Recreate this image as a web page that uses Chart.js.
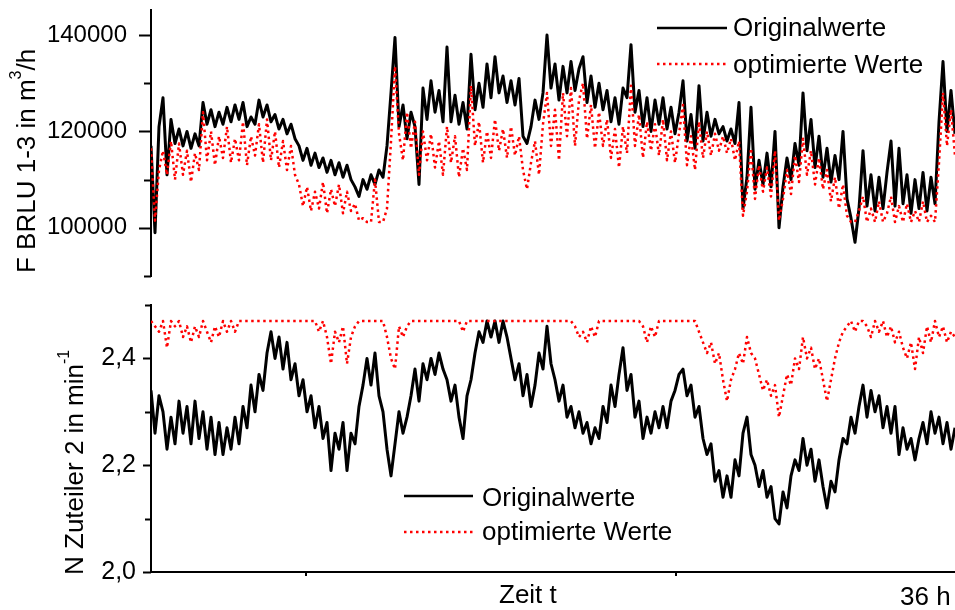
<!DOCTYPE html>
<html>
<head>
<meta charset="utf-8">
<script src="https://cdn.jsdelivr.net/npm/chart.js@4/dist/chart.umd.min.js"></script>
<style>
  body { margin: 0; background: #fff; }
  #wrap { position: relative; width: 955px; height: 610px; }
  canvas { position: absolute; left: 0; }
</style>
</head>
<body>
<div id="wrap">
  <canvas id="oben" width="955" height="290" style="top:0"></canvas>
  <canvas id="unten" width="955" height="320" style="top:290px"></canvas>
</div>
<script>
// F BRLU 1-3 in m3/h, Originalwerte (schwarz)
const originalOben = [
  117000, 99000, 121000, 127000, 111000, 122500, 117500, 120500, 117000, 120000,
  116500, 119500, 117000, 126000, 121500, 124500, 121000, 124000, 121500, 125000,
  122000, 125500, 122500, 126000, 121000, 123000, 121500, 126500, 123000, 125500,
  122000, 123500, 120500, 122500, 119500, 121500, 118500, 117000, 114000, 116500,
  113000, 115500, 112500, 114500, 111500, 114000, 111000, 113500, 110500, 113000,
  110000, 108500, 106500, 110000, 108000, 111000, 109000, 112000, 110500, 117000,
  128000, 139500, 121000, 125500, 118500, 124000, 121000, 109000, 129000, 122500,
  130500, 124000, 128500, 122000, 137500, 122000, 127500, 121500, 126000, 120500,
  136000, 124500, 130000, 125000, 134000, 127000, 135500, 128000, 131500, 126000,
  130500, 125500, 131000, 119000, 117500, 121000, 126500, 122500, 128000, 140000,
  129000, 134000, 126500, 133500, 128000, 134500, 128500, 133000, 135500, 126000,
  131500, 125000, 130000, 124500, 128500, 122000, 127000, 121500, 129000, 127000,
  138000, 124000, 128500, 121000, 127000, 120000, 126500, 121500, 127000, 120500,
  125000, 119500, 124000, 130500, 118000, 123500, 116500, 129500, 118000, 124000,
  119000, 122500, 119500, 121000, 118000, 120500, 117500, 126000, 104000, 110500,
  125000, 108000, 114000, 109000, 115500, 108500, 120000, 100000, 108500, 114500,
  110000, 117500, 113000, 128000, 116000, 122500, 112500, 119000, 110500, 116500,
  109500, 115000, 110000, 120000, 106000, 102000, 97000, 104000, 116000, 104500,
  111000, 103500, 110500, 104000, 111500, 118000, 104500, 116500, 105000, 111000,
  103000, 110000, 104000, 111500, 103500, 110500, 105000, 122000, 134500, 120000,
  128500, 119500
];

// F BRLU 1-3, optimierte Werte (rot)
const optimiertOben = [
  116500, 101500, 112000, 116000, 111000, 118000, 110000, 117500, 111000, 116000,
  109500, 115500, 112000, 124000, 114000, 120000, 113000, 119000, 114500, 121000,
  113500, 118500, 114000, 122000, 113000, 119000, 115000, 121500, 113500, 122500,
  114000, 120000, 112500, 118000, 112000, 117000, 111000, 109000, 104500, 108500,
  103500, 107500, 104000, 109500, 103000, 108000, 104500, 109000, 103000, 107500,
  103500, 105000, 101500, 102000, 101200, 101200, 110000, 101200, 101200, 104000,
  118000, 133500, 119500, 114000, 124000, 116500, 122000, 111000, 120000, 114000,
  119500, 112500, 118000, 111000, 121000, 113500, 119000, 110500, 116500, 112000,
  129500, 117000, 122000, 113500, 120000, 114500, 122500, 116000, 120500, 114500,
  121000, 115000, 119000, 112000, 108000, 113500, 118000, 111000, 121500, 128000,
  117000, 124500, 114000, 128000, 119000, 129000, 117000, 126500, 130000, 118500,
  125500, 116500, 124000, 117000, 122500, 114500, 120500, 112500, 121000, 115500,
  129500, 117000, 123500, 114500, 122000, 116000, 121500, 115000, 122500, 114000,
  120000, 113500, 119500, 125500, 113000, 119000, 112000, 122000, 114500, 120000,
  115000, 119500, 116000, 119000, 115500, 118500, 114000, 118000, 102500, 107500,
  116500, 106000, 113000, 107500, 112500, 106500, 116000, 101500, 106000, 112000,
  107000, 115000, 109500, 118500, 111000, 116000, 109000, 114500, 108000, 112000,
  105500, 110500, 104000, 109000, 102500, 101200, 101200, 103500, 106500, 101200,
  104000, 101200, 105500, 101200, 103000, 106500, 101200, 104500, 101200, 105000,
  101200, 103500, 101200, 105500, 101200, 102500, 101200, 113500, 128000, 117000,
  124500, 115000
];

// N Zuteiler 2 in min-1, Originalwerte (schwarz)
const originalUnten = [
  2.34, 2.26, 2.33, 2.30, 2.23, 2.29, 2.24, 2.32, 2.26, 2.31,
  2.24, 2.32, 2.25, 2.30, 2.23, 2.29, 2.22, 2.28, 2.22, 2.27,
  2.23, 2.29, 2.24, 2.31, 2.27, 2.35, 2.30, 2.37, 2.34, 2.41,
  2.45, 2.40, 2.44, 2.38, 2.43, 2.36, 2.39, 2.33, 2.36, 2.30,
  2.33, 2.27, 2.31, 2.25, 2.28, 2.19, 2.26, 2.23, 2.28, 2.19,
  2.26, 2.24, 2.31, 2.35, 2.40, 2.35, 2.41, 2.33, 2.30, 2.23,
  2.18, 2.24, 2.30, 2.26, 2.29, 2.33, 2.38, 2.32, 2.39, 2.36,
  2.40, 2.37, 2.41, 2.38, 2.36, 2.32, 2.35, 2.29, 2.25, 2.33,
  2.36, 2.41, 2.45, 2.43, 2.47, 2.44, 2.47, 2.43, 2.47, 2.44,
  2.40, 2.36, 2.39, 2.33, 2.37, 2.31, 2.35, 2.41, 2.38, 2.46,
  2.39, 2.36, 2.32, 2.35, 2.29, 2.31, 2.27, 2.30, 2.26, 2.28,
  2.24, 2.27, 2.25, 2.31, 2.28, 2.35, 2.31, 2.37, 2.42, 2.34,
  2.37, 2.29, 2.32, 2.25, 2.29, 2.26, 2.30, 2.27, 2.31, 2.27,
  2.32, 2.34, 2.37, 2.38, 2.33, 2.35, 2.29, 2.31, 2.25, 2.22,
  2.24, 2.17, 2.19, 2.14, 2.18, 2.14, 2.21, 2.18, 2.26, 2.29,
  2.22, 2.20, 2.16, 2.19, 2.14, 2.16, 2.10, 2.09, 2.15, 2.12,
  2.18, 2.21, 2.19, 2.25, 2.20, 2.23, 2.17, 2.21, 2.16, 2.12,
  2.17, 2.15, 2.21, 2.25, 2.24, 2.29, 2.26, 2.31, 2.35, 2.29,
  2.34, 2.30, 2.33, 2.27, 2.31, 2.26, 2.31, 2.22, 2.27, 2.23,
  2.25, 2.21, 2.25, 2.28, 2.24, 2.30, 2.26, 2.29, 2.24, 2.28,
  2.23, 2.27
];

// N Zuteiler 2, optimierte Werte (rot)
const optimiertUnten = [
  2.47, 2.46, 2.45, 2.47, 2.42, 2.47, 2.46, 2.47, 2.44, 2.46,
  2.43, 2.46, 2.44, 2.47, 2.45, 2.43, 2.46, 2.44, 2.47, 2.45,
  2.47, 2.45, 2.47, 2.47, 2.47, 2.47, 2.47, 2.47, 2.47, 2.47,
  2.47, 2.47, 2.47, 2.47, 2.47, 2.47, 2.47, 2.47, 2.47, 2.47,
  2.47, 2.47, 2.45, 2.47, 2.44, 2.39, 2.45, 2.43, 2.46, 2.39,
  2.44, 2.46, 2.47, 2.47, 2.47, 2.47, 2.47, 2.47, 2.47, 2.44,
  2.40, 2.38, 2.46, 2.44, 2.46, 2.47, 2.47, 2.47, 2.47, 2.47,
  2.47, 2.47, 2.47, 2.47, 2.47, 2.47, 2.47, 2.47, 2.45, 2.47,
  2.47, 2.47, 2.47, 2.47, 2.47, 2.47, 2.47, 2.47, 2.47, 2.47,
  2.47, 2.47, 2.47, 2.47, 2.47, 2.47, 2.47, 2.47, 2.47, 2.47,
  2.47, 2.47, 2.47, 2.47, 2.47, 2.47, 2.46, 2.44, 2.45, 2.43,
  2.46, 2.44, 2.47, 2.47, 2.47, 2.47, 2.47, 2.47, 2.47, 2.47,
  2.47, 2.47, 2.47, 2.46, 2.43, 2.46, 2.44, 2.47, 2.47, 2.47,
  2.47, 2.47, 2.47, 2.47, 2.47, 2.47, 2.47, 2.45, 2.43, 2.41,
  2.43, 2.39, 2.41, 2.36, 2.32, 2.36, 2.38, 2.41, 2.39, 2.44,
  2.41, 2.40, 2.37, 2.34, 2.36, 2.33, 2.35, 2.29, 2.33, 2.37,
  2.35, 2.40, 2.38, 2.44, 2.40, 2.42, 2.38, 2.40, 2.36, 2.32,
  2.36, 2.40, 2.43, 2.45, 2.46, 2.47, 2.45, 2.47, 2.47, 2.46,
  2.44, 2.47, 2.45, 2.47, 2.44, 2.46, 2.43, 2.45, 2.42, 2.40,
  2.43, 2.38, 2.44, 2.41, 2.46, 2.43, 2.47, 2.44, 2.46, 2.43,
  2.45, 2.44
];

// Achsen
const dauer = 36; // h
const yTicksOben = [90000, 100000, 110000, 120000, 130000, 140000];
const yMajorOben = [100000, 120000, 140000];
const yLabelsOben = ['100000', '120000', '140000'];
const yTicksUnten = [2.0, 2.1, 2.2, 2.3, 2.4, 2.5];
const yMajorUnten = [2.0, 2.2, 2.4];
const yLabelsUnten = ['2,0', '2,2', '2,4'];
const xStriche = [6.93, 23.49];

const zeit = originalOben.map((_, i) => i * dauer / (originalOben.length - 1));

const schrift = "'Liberation Sans', Arial, sans-serif";
Chart.defaults.font.family = schrift;
Chart.defaults.color = '#000';

const rot = '#ff0000';
const strichRot = [2.5, 3.5];

function text(ctx, parts, size) {
  // parts: [text, hochgestellt?]
  let x = 0;
  parts.forEach(([t, sup]) => {
    const fs = sup ? Math.round(size * 0.62) : size;
    ctx.font = fs + 'px ' + schrift;
    ctx.fillText(t, x, sup ? -Math.round(size * 0.52) : 0);
    x += ctx.measureText(t).width;
  });
}

const achsenDeko = {
  id: 'achsenDeko',
  afterDraw(chart, args, o) {
    const ctx = chart.ctx;
    const ys = chart.scales.y;
    const xs = chart.scales.x;
    ctx.save();
    ctx.strokeStyle = '#000';
    ctx.fillStyle = '#000';
    ctx.lineWidth = 2;
    ctx.setLineDash([]);
    o.yTicks.forEach(v => {
      const major = o.yMajor.some(m => Math.abs(m - v) < 1e-9);
      const len = major ? o.lenMajor : o.lenMinor;
      const py = Math.round(ys.getPixelForValue(v)) + 0.5;
      ctx.beginPath();
      ctx.moveTo(ys.right - len, py);
      ctx.lineTo(ys.right, py);
      ctx.stroke();
    });
    if (o.xStriche) {
      o.xStriche.forEach(v => {
        const px = Math.round(xs.getPixelForValue(v));
        ctx.beginPath();
        ctx.moveTo(px, chart.chartArea.bottom);
        ctx.lineTo(px, chart.chartArea.bottom + 4);
        ctx.stroke();
      });
    }
    // y-Achsentitel
    ctx.textBaseline = 'alphabetic';
    ctx.textAlign = 'left';
    ctx.save();
    ctx.translate(o.titel.x, o.titel.y);
    ctx.rotate(-Math.PI / 2);
    text(ctx, o.titel.parts, 26);
    ctx.restore();
    // Legende
    o.legende.forEach(e => {
      ctx.save();
      ctx.strokeStyle = e.farbe;
      ctx.lineWidth = 2.5;
      ctx.setLineDash(e.dash);
      ctx.beginPath();
      ctx.moveTo(e.x1, e.ly);
      ctx.lineTo(e.x2, e.ly);
      ctx.stroke();
      ctx.restore();
      ctx.font = '26px ' + schrift;
      ctx.fillText(e.label, e.tx, e.ty);
    });
    (o.texte || []).forEach(t => {
      ctx.font = '26px ' + schrift;
      ctx.fillText(t.label, t.x, t.y);
    });
    ctx.restore();
  }
};

function labelFuer(major, labels) {
  return v => {
    const i = major.findIndex(m => Math.abs(m - v) < 1e-9);
    return i >= 0 ? labels[i] : '';
  };
}

function optionen(c) {
  return {
    responsive: false,
    animation: false,
    events: [],
    layout: { padding: { top: c.padTop, bottom: c.padBottom, left: 0, right: 0 } },
    plugins: {
      legend: { display: false },
      tooltip: { enabled: false },
      achsenDeko: c.deko
    },
    elements: { point: { radius: 0 }, line: { tension: 0, borderJoinStyle: 'round' } },
    scales: {
      x: {
        type: 'linear',
        min: 0,
        max: dauer,
        display: c.xAchse,
        grid: { display: false },
        ticks: { display: false },
        border: { display: true, color: '#000', width: 2 },
        afterFit(s) { s.height = c.xHoehe; s.paddingLeft = 0; s.paddingRight = 0; }
      },
      y: {
        min: c.min,
        max: c.max,
        grid: { display: false },
        border: { display: true, color: '#000', width: 2 },
        afterBuildTicks(s) { s.ticks = c.yTicks.map(v => ({ value: v })); },
        ticks: {
          padding: c.tickPad,
          autoSkip: false,
          font: { size: c.tickFont },
          color: '#000',
          callback: labelFuer(c.yMajor, c.yLabels)
        },
        afterFit(s) { s.width = 151; s.paddingTop = 0; s.paddingBottom = 0; }
      }
    }
  };
}

new Chart(document.getElementById('oben'), {
  type: 'line',
  data: {
    labels: zeit,
    datasets: [
      { label: 'Originalwerte', data: originalOben, borderColor: '#000', borderWidth: 3, order: 1 },
      { label: 'optimierte Werte', data: optimiertOben, borderColor: rot, borderWidth: 2.5, borderDash: strichRot, order: 0 }
    ]
  },
  options: optionen({
    padTop: 10, padBottom: 14, xAchse: false, xHoehe: 0,
    min: 90000, max: 145200, tickPad: 16, tickFont: 24,
    yTicks: yTicksOben, yMajor: yMajorOben, yLabels: yLabelsOben,
    deko: {
      yTicks: yTicksOben, yMajor: yMajorOben, lenMajor: 12, lenMinor: 7,
      titel: { x: 35, y: 273, parts: [['F BRLU 1-3 in m', false], ['3', true], ['/h', false]] },
      legende: [
        { label: 'Originalwerte', farbe: '#000', dash: [], x1: 657, x2: 727, ly: 28, tx: 733, ty: 36 },
        { label: 'optimierte Werte', farbe: rot, dash: strichRot, x1: 657, x2: 727, ly: 64, tx: 733, ty: 73 }
      ]
    }
  }),
  plugins: [achsenDeko]
});

new Chart(document.getElementById('unten'), {
  type: 'line',
  data: {
    labels: zeit,
    datasets: [
      { label: 'Originalwerte', data: originalUnten, borderColor: '#000', borderWidth: 3, order: 1 },
      { label: 'optimierte Werte', data: optimiertUnten, borderColor: rot, borderWidth: 2.5, borderDash: strichRot, order: 0 }
    ]
  },
  options: optionen({
    padTop: 15, padBottom: 0, xAchse: true, xHoehe: 38,
    min: 2.0, max: 2.5, tickPad: 7, tickFont: 25,
    yTicks: yTicksUnten, yMajor: yMajorUnten, yLabels: yLabelsUnten,
    deko: {
      yTicks: yTicksUnten, yMajor: yMajorUnten, lenMajor: 8, lenMinor: 6,
      xStriche: xStriche,
      titel: { x: 83, y: 285, parts: [['N Zuteiler 2 in min', false], ['-1', true]] },
      legende: [
        { label: 'Originalwerte', farbe: '#000', dash: [], x1: 404, x2: 473, ly: 206, tx: 482, ty: 216 },
        { label: 'optimierte Werte', farbe: rot, dash: strichRot, x1: 404, x2: 473, ly: 242, tx: 482, ty: 250 }
      ],
      texte: [
        { label: 'Zeit t', x: 499, y: 313 },
        { label: '36 h', x: 900, y: 315 }
      ]
    }
  }),
  plugins: [achsenDeko]
});
</script>
</body>
</html>
